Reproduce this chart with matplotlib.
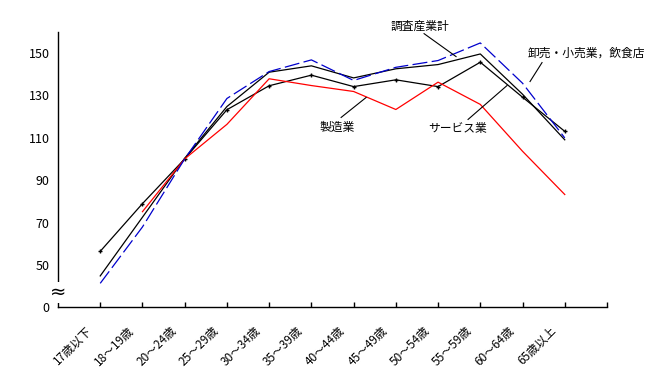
import matplotlib
matplotlib.use('Agg')
import matplotlib.pyplot as plt
import matplotlib.transforms as mtransforms
import numpy as np

plt.rcParams['font.family'] = ['Noto Sans CJK JP', 'DejaVu Sans']

# age groups
categories = ["17歳以下", "18～19歳", "20～24歳", "25～29歳", "30～34歳", "35～39歳",
              "40～44歳", "45～49歳", "50～54歳", "55～59歳", "60～64歳", "65歳以上"]

# values (20～24歳 = 100)
total = [44.8, 72.5, 100.3, 124.7, 140.9, 143.9, 138.2, 142.5, 144.5, 149.5, 130.5, 109.0]
service = [56.4, 78.9, 100.0, 123.2, 134.5, 139.5, 134.1, 137.3, 134.1, 145.6, 129.1, 113.0]
manufacturing = [np.nan, 75.1, 100.0, 116.3, 137.8, 134.6, 131.8, 123.3, 136.2, 125.7, 103.6, 83.2]
wholesale = [41.3, 67.9, 100.0, 128.5, 141.2, 146.7, 137.0, 143.2, 146.4, 154.7, 135.7, 109.9]

ytick_vals = [30, 50, 70, 90, 110, 130, 150]
ytick_labels = ["0", "50", "70", "90", "110", "130", "150"]

fig = plt.figure(figsize=(6.64, 3.74), dpi=100)
ax = fig.add_axes([58 / 664, 1 - 307.3 / 374, (607 - 58) / 664, (307.3 - 31.7) / 374])

x = np.arange(len(categories))
ax.plot(x, total, color='black', lw=0.9)
ax.plot(x, service, color='black', lw=0.9, marker='+', markersize=3, markeredgewidth=1)
ax.plot(x, manufacturing, color='red', lw=0.9)
ax.plot(x, wholesale, color='#0000cc', lw=0.9, dashes=(12, 3.5))

ax.set_xlim(-1, 12)
ax.set_ylim(30, 160)

ax.set_yticks(ytick_vals)
ax.set_yticklabels(ytick_labels, fontsize=9)
ax.tick_params(axis='y', length=0, pad=6)

ax.set_xticks(np.arange(13))
ax.set_xticklabels(categories + [""], fontsize=8.5, rotation=45, ha='right', va='top')
ax.tick_params(axis='x', direction='in', length=3.5, width=1, pad=12)
offset = mtransforms.ScaledTranslation(-6 / 100, 0, fig.dpi_scale_trans)
for lbl in ax.get_xticklabels():
    lbl.set_transform(lbl.get_transform() + offset)

for s in ['top', 'right']:
    ax.spines[s].set_visible(False)
for s in ['left', 'bottom']:
    ax.spines[s].set_linewidth(1)

# axis break mark
ax.text(-1, 37, "≈", fontsize=14, ha='center', va='center', clip_on=False,
        family='DejaVu Sans',
        bbox=dict(boxstyle='square,pad=0.05', fc='white', ec='none'))

# labels with leader lines
def px(xp, yp):
    return (xp - 100) / 42.25, 150 - (yp - 52.3) / 2.125

def label(text, tpos, p0, p1):
    tx, ty = px(*tpos)
    ax.text(tx, ty, text, fontsize=8.5, ha='center', va='center', clip_on=False)
    a, b = px(*p0)
    c, d = px(*p1)
    ax.plot([a, c], [b, d], color='black', lw=0.8, clip_on=False)

label("調査産業計", (420, 26), (424, 33), (456, 56))
label("卸売・小売業，飲食店", (586, 53), (542, 62), (530, 81))
label("製造業", (337, 127), (341, 117), (366, 97))
label("サービス業", (457, 128), (468, 119), (507, 85))

fig.savefig("out.png", dpi=100)
